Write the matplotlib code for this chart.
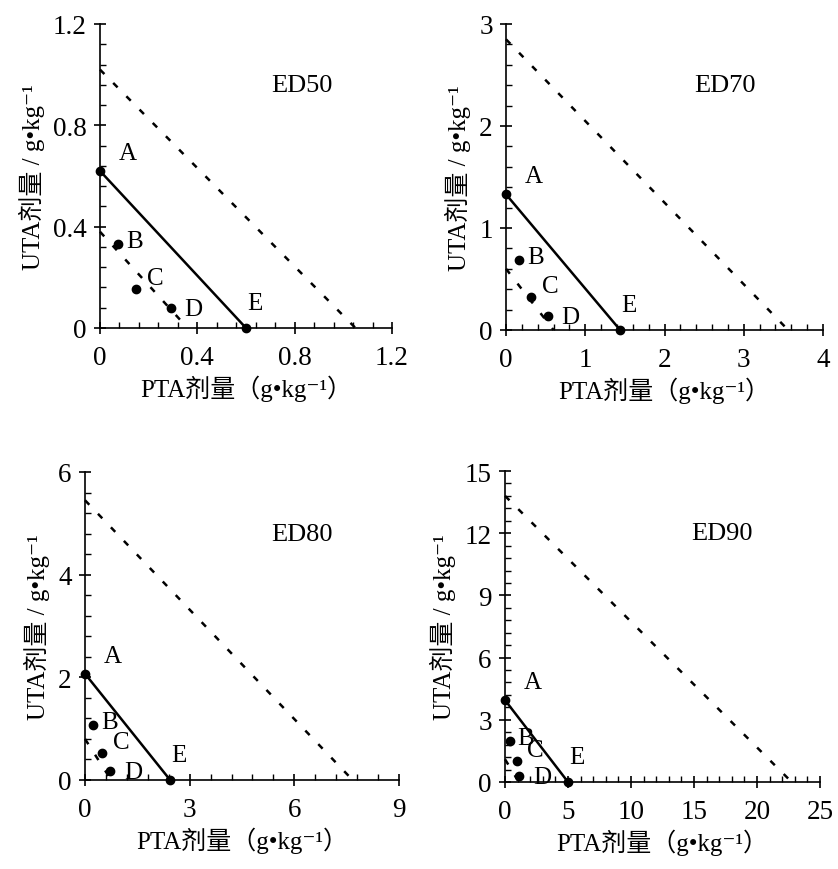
import matplotlib
matplotlib.use("Agg")
import matplotlib.pyplot as plt
from matplotlib.ticker import AutoMinorLocator

plt.rcParams['font.family'] = ['Liberation Serif', 'Noto Sans CJK SC', 'DejaVu Sans']
plt.rcParams['font.size'] = 18

# panel names
panels = ['ED50', 'ED70', 'ED80', 'ED90']

# points A..E (PTA, UTA) per panel
pt_names = ['A', 'B', 'C', 'D', 'E']
pta_pts = [
    [0, 0.075, 0.148, 0.29, 0.60],
    [0, 0.17, 0.32, 0.525, 1.44],
    [0, 0.24, 0.50, 0.72, 2.44],
    [0, 0.40, 0.93, 1.14, 5.0],
]
uta_pts = [
    [0.62, 0.33, 0.155, 0.079, 0],
    [1.33, 0.69, 0.32, 0.137, 0],
    [2.07, 1.07, 0.53, 0.18, 0],
    [3.95, 1.98, 1.0, 0.29, 0],
]

# upper and lower confidence lines (y intercept, x intercept)
upper_y0 = [1.02, 2.85, 5.45, 13.8]
upper_x0 = [1.05, 3.56, 7.67, 22.75]
lower_y0 = [0.38, 0.60, 0.80, 1.10]
lower_x0 = [0.36, 0.60, 0.75, 1.10]

# axis ranges / ticks
xmax = [1.2, 4, 9, 25]
ymax = [1.2, 3, 6, 15]
xticks = [[0, 0.4, 0.8, 1.2], [0, 1, 2, 3, 4], [0, 3, 6, 9], [0, 5, 10, 15, 20, 25]]
yticks = [[0, 0.4, 0.8, 1.2], [0, 1, 2, 3], [0, 2, 4, 6], [0, 3, 6, 9, 12, 15]]
xticklabels = [['0', '0.4', '0.8', '1.2'], ['0', '1', '2', '3', '4'],
               ['0', '3', '6', '9'], ['0', '5', '10', '15', '20', '25']]
yticklabels = [['0', '0.4', '0.8', '1.2'], ['0', '1', '2', '3'],
               ['0', '2', '4', '6'], ['0', '3', '6', '9', '12', '15']]

# label offsets in pixels
lab_dx = [28, 16, 19, 23, 9]
lab_dy = [18, 3, 11, -1, 25]

W, H = 838, 870
boxes = [(100, 25, 392, 329), (506, 25, 823, 331),
         (85, 473, 399, 781), (505, 472, 820, 783)]

fig = plt.figure(figsize=(W / 100, H / 100), dpi=100)

for i, name in enumerate(panels):
    x0, y0, x1, y1 = boxes[i]
    ax = fig.add_axes([x0 / W, 1 - y1 / H, (x1 - x0) / W, (y1 - y0) / H])

    ax.plot([0, upper_x0[i]], [upper_y0[i], 0], color='black', lw=1.8,
            linestyle=(0, (2.5, 5)), clip_on=False)
    ax.plot([0, lower_x0[i]], [lower_y0[i], 0], color='black', lw=1.8,
            linestyle=(0, (2.5, 5)), clip_on=False)
    ax.plot([pta_pts[i][0], pta_pts[i][4]], [uta_pts[i][0], uta_pts[i][4]],
            color='black', lw=1.8, clip_on=False)
    ax.plot(pta_pts[i], uta_pts[i], 'o', color='black', markersize=6,
            linestyle='none', clip_on=False, zorder=5)

    for k, lab in enumerate(pt_names):
        ax.annotate(lab, (pta_pts[i][k], uta_pts[i][k]),
                    xytext=(lab_dx[k], lab_dy[k]), textcoords='offset pixels',
                    ha='center', va='center', fontsize=18,
                    annotation_clip=False)

    ax.text(0.69, 0.80, name, transform=ax.transAxes, ha='center',
            va='center', fontsize=19)

    ax.set_xticks(xticks[i])
    ax.set_xticklabels(xticklabels[i])
    ax.set_yticks(yticks[i])
    ax.set_yticklabels(yticklabels[i])
    ax.xaxis.set_minor_locator(AutoMinorLocator(5))
    ax.yaxis.set_minor_locator(AutoMinorLocator(5))
    ax.set_xlim(0, xmax[i])
    ax.set_ylim(0, ymax[i])

    for s in ['top', 'right']:
        ax.spines[s].set_visible(False)
    for s in ['left', 'bottom']:
        ax.spines[s].set_linewidth(1.2)
    ax.tick_params(which='major', direction='inout', length=9, width=1.2,
                   labelsize=19.5)
    ax.tick_params(axis='x', which='major', pad=8)
    ax.tick_params(axis='y', which='major', pad=5)
    ax.tick_params(which='minor', direction='in', length=4, width=1.0)

    ax.set_xlabel('PTA剂量（g•kg⁻¹）', fontsize=18, labelpad=3)
    ax.set_ylabel('UTA剂量 / g•kg⁻¹', fontsize=18, labelpad=6)

fig.savefig('out.png', dpi=100)
